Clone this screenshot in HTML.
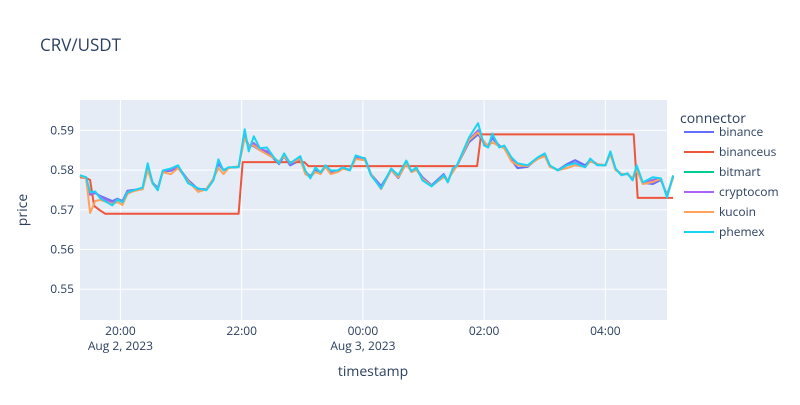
<!DOCTYPE html>
<html><head><meta charset="utf-8"><style>
body{margin:0;background:#fff;font-family:"Open Sans","Liberation Sans",sans-serif}
svg text{font-family:"Open Sans","Liberation Sans",sans-serif;fill:#2a3f5f}
</style></head><body>
<svg id="chart" width="800" height="400" xmlns="http://www.w3.org/2000/svg">
<rect width="800" height="400" fill="#fff"/>
<text x="40" y="51" font-size="17">CRV/USDT</text>
<rect x="80" y="100" width="587" height="220" fill="#e5ecf6"/>
<g id="grid"></g><g id="series"></g><g id="axes"></g>
<text x="373" y="376" font-size="14" text-anchor="middle">timestamp</text>
<text transform="translate(27,210) rotate(-90)" font-size="14" text-anchor="middle">price</text>
<g id="legend">
<text x="680" y="123" font-size="14">connector</text>
</g>
</svg>
<script>
const minutes=[0,6,10,15,20,32,37,42,47,53,62,67,72,77,82,90,97,107,117,125,132,137,142,147,157,163,167,172,178,185,192,197,202,208,218,223,228,233,238,243,248,255,260,267,273,282,288,298,308,315,323,328,333,339,348,360,364,369,373,385,394,400,404,408,415,420,427,433,443,453,460,465,473,482,490,500,505,512,520,525,530,536,542,547,551,557,567,575,581,587];
const phemex=[0.5787,0.5782,0.5744,0.5746,0.5729,0.5711,0.5726,0.5719,0.5744,0.5749,0.5756,0.5817,0.5767,0.5749,0.5799,0.5804,0.5812,0.5767,0.5754,0.5749,0.5774,0.5827,0.5799,0.5807,0.5807,0.5903,0.5847,0.5885,0.5855,0.5857,0.5832,0.5817,0.5842,0.5817,0.5835,0.5799,0.5779,0.5807,0.5794,0.5812,0.5799,0.5799,0.5807,0.5799,0.5837,0.5829,0.5787,0.5754,0.5804,0.5787,0.5824,0.5797,0.5807,0.5774,0.5759,0.5787,0.5769,0.5804,0.5812,0.5882,0.5918,0.5862,0.5857,0.5892,0.5857,0.5862,0.5832,0.5817,0.5812,0.5832,0.5842,0.5812,0.5799,0.5812,0.5817,0.5807,0.5829,0.5812,0.5812,0.5847,0.5804,0.5787,0.5792,0.5774,0.5812,0.5769,0.5782,0.5779,0.5731,0.5787];
const kucoin=[0.5785,0.5780,0.5692,0.5722,0.5725,0.5715,0.5720,0.5712,0.5740,0.5747,0.5752,0.5800,0.5765,0.5752,0.5795,0.5790,0.5805,0.5772,0.5745,0.5752,0.5778,0.5805,0.5790,0.5805,0.5810,0.5880,0.5860,0.5862,0.5850,0.5840,0.5830,0.5822,0.5835,0.5818,0.5828,0.5790,0.5782,0.5795,0.5790,0.5808,0.5790,0.5795,0.5803,0.5800,0.5828,0.5825,0.5790,0.5752,0.5800,0.5782,0.5815,0.5795,0.5800,0.5778,0.5760,0.5782,0.5775,0.5795,0.5810,0.5875,0.5895,0.5872,0.5860,0.5870,0.5860,0.5855,0.5822,0.5812,0.5810,0.5828,0.5835,0.5808,0.5800,0.5805,0.5812,0.5808,0.5822,0.5815,0.5812,0.5840,0.5800,0.5790,0.5790,0.5780,0.5800,0.5765,0.5770,0.5778,0.5735,0.5780];
const binance=[0.5786,0.5781,0.5738,0.5742,0.5735,0.5722,0.5728,0.5722,0.5748,0.5750,0.5752,0.5808,0.5768,0.5755,0.5797,0.5798,0.5808,0.5775,0.5752,0.5752,0.5778,0.5815,0.5800,0.5806,0.5808,0.5885,0.5862,0.5860,0.5850,0.5845,0.5828,0.5815,0.5835,0.5812,0.5825,0.5795,0.5785,0.5800,0.5792,0.5808,0.5795,0.5798,0.5805,0.5800,0.5832,0.5830,0.5790,0.5760,0.5800,0.5780,0.5818,0.5798,0.5803,0.5782,0.5762,0.5790,0.5772,0.5800,0.5810,0.5870,0.5890,0.5870,0.5862,0.5880,0.5862,0.5855,0.5825,0.5805,0.5808,0.5830,0.5838,0.5810,0.5800,0.5815,0.5825,0.5812,0.5826,0.5815,0.5812,0.5842,0.5802,0.5790,0.5790,0.5778,0.5805,0.5768,0.5765,0.5775,0.5738,0.5782];
const cryptocom=[0.5786,0.5781,0.5740,0.5744,0.5733,0.5718,0.5727,0.5720,0.5746,0.5749,0.5754,0.5810,0.5767,0.5752,0.5798,0.5800,0.5810,0.5771,0.5753,0.5751,0.5776,0.5818,0.5800,0.5806,0.5808,0.5890,0.5855,0.5868,0.5852,0.5848,0.5830,0.5817,0.5838,0.5815,0.5830,0.5797,0.5782,0.5803,0.5793,0.5810,0.5797,0.5798,0.5806,0.5800,0.5834,0.5828,0.5788,0.5757,0.5802,0.5784,0.5820,0.5796,0.5805,0.5778,0.5760,0.5788,0.5771,0.5802,0.5810,0.5876,0.5900,0.5866,0.5860,0.5885,0.5860,0.5858,0.5828,0.5812,0.5810,0.5830,0.5840,0.5811,0.5800,0.5812,0.5818,0.5808,0.5826,0.5813,0.5812,0.5845,0.5803,0.5788,0.5791,0.5776,0.5808,0.5768,0.5775,0.5778,0.5734,0.5784];
const bitmart=cryptocom.slice();
const usMinutes=[0,6,10,14,19,25,157,161,165,222,226,393,397,548,552,587];
const binanceus=[0.5782,0.5780,0.5775,0.5710,0.5700,0.5690,0.5690,0.5820,0.5820,0.5820,0.5810,0.5810,0.5890,0.5890,0.5730,0.5730];
const yTicks=[0.55,0.56,0.57,0.58,0.59];
const xTicks=[{m:40,a:"20:00",b:"Aug 2, 2023"},{m:160,a:"22:00",b:""},{m:280,a:"00:00",b:"Aug 3, 2023"},{m:400,a:"02:00",b:""},{m:520,a:"04:00",b:""}];
const yMin=0.54225,yMax=0.59765;
const X=m=>80+m*587/581;
const Y=v=>320-(v-yMin)/(yMax-yMin)*220;
const NS="http://www.w3.org/2000/svg";
function mk(t,p,a){const e=document.createElementNS(NS,t);for(const k in a)e.setAttribute(k,a[k]);p.appendChild(e);return e;}
const grid=document.getElementById('grid'),axes=document.getElementById('axes');
yTicks.forEach(v=>{const l=mk('line',grid,{x1:80,x2:667,y1:Y(v),y2:Y(v),stroke:'#fff','stroke-width':1});


const t=mk('text',axes,{x:74,y:Y(v)+4,'font-size':12,'text-anchor':'end'});t.textContent=v.toFixed(2);

});
xTicks.forEach(k=>{const x=X(k.m);const l=mk('line',grid,{x1:x,x2:x,y1:100,y2:320,stroke:'#fff','stroke-width':1});


const t=mk('text',axes,{x:x,y:335,'font-size':12,'text-anchor':'middle'});t.textContent=k.a;


if(k.b){const t2=mk('text',axes,{x:x,y:350,'font-size':12,'text-anchor':'middle'});t2.textContent=k.b;

}});
const series=[["binance",minutes,binance,"#636efa"],["binanceus",usMinutes,binanceus,"#EF553B"],["bitmart",minutes,bitmart,"#00cc96"],["cryptocom",minutes,cryptocom,"#ab63fa"],["kucoin",minutes,kucoin,"#FFA15A"],["phemex",minutes,phemex,"#19d3f3"]];
const sg=document.getElementById('series'),lg=document.getElementById('legend');
series.forEach((s,i)=>{const d=s[1].map((m,j)=>(j?'L':'M')+X(m).toFixed(1)+','+Y(s[2][j]).toFixed(1)).join('');
const p=mk('path',sg,{d:d,fill:'none',stroke:s[3],'stroke-width':2,'stroke-linejoin':'round'});


const y=132+i*20;
const g=mk('g',lg,{});


mk('line',g,{x1:684,x2:714,y1:y,y2:y,stroke:s[3],'stroke-width':2});
const t=mk('text',g,{x:719,y:y+4,'font-size':12});t.textContent=s[0];});
</script>
</body></html>
